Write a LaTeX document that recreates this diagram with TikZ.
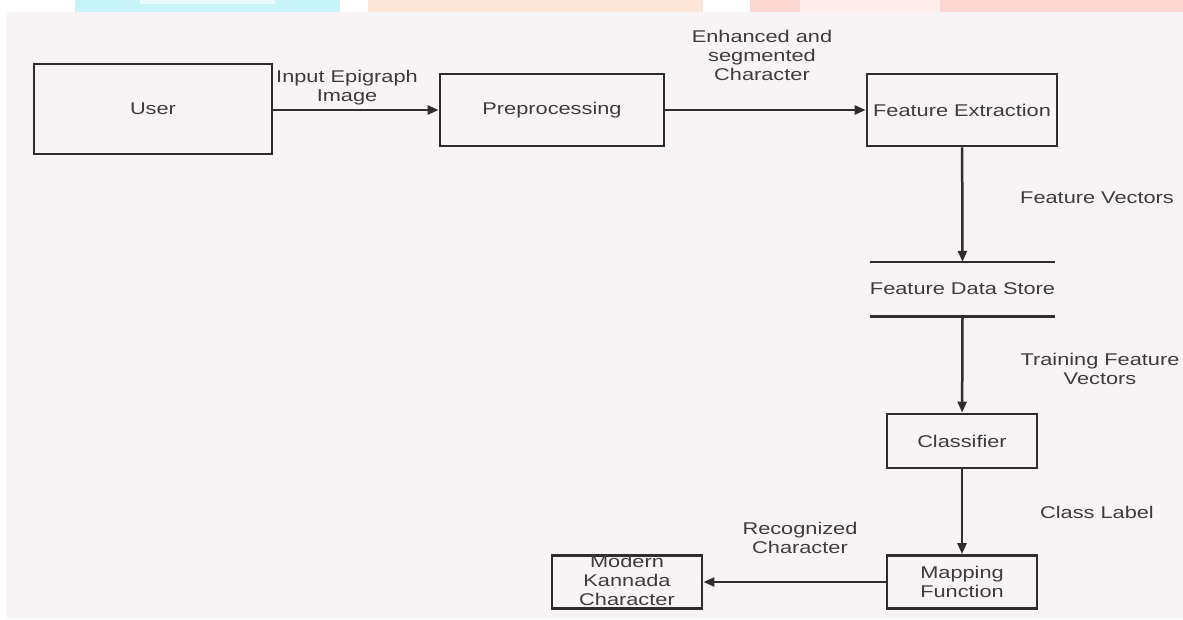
\documentclass[tikz,border=0pt]{standalone}
\usepackage{fontspec}
\setmainfont{Liberation Sans}[FakeStretch=1.28]
\usetikzlibrary{arrows.meta}
\definecolor{ink}{HTML}{2E2E2E}
\definecolor{txt}{HTML}{3C3C3C}
\definecolor{panel}{HTML}{F8F4F5}
\definecolor{wmcyan}{HTML}{C9F4F8}
\definecolor{wmpeach}{HTML}{FDE6D7}
\definecolor{wmpink}{HTML}{FBD6D2}
\begin{document}
\begin{tikzpicture}[x=1pt,y=-1pt,
  every node/.style={font=\fontsize{17}{19}\selectfont},
  box/.style={draw=ink, line width=2.8pt, fill=panel, inner sep=0pt, align=center, text=txt},
  lbl/.style={align=center, text=txt, inner sep=0pt},
  storeline/.style={draw=ink, line width=2.6pt},
  arr/.style={draw=ink, line width=2.5pt, -{Triangle[length=11pt,width=9pt]}}]
\useasboundingbox (0,0) rectangle (1183,619);
\fill[white] (0,0) rectangle (1183,619);
% watermark strip at the top
\fill[wmcyan] (75,0) rectangle (340,12);
\fill[white!60!wmcyan] (140,0) rectangle (275,4);
\fill[wmpeach] (368,0) rectangle (703,12);
\fill[wmpink] (750,0) rectangle (1183,12);
\fill[white!55!wmpink] (800,0) rectangle (940,12);
% main panel
\fill[panel] (7,12) rectangle (1183,619);

% boxes
\node[box, minimum width=238, minimum height=90] (user) at (153,109) {User};
\node[box, minimum width=224, minimum height=72] (pre) at (552,110) {Preprocessing};
\node[box, minimum width=190, minimum height=72] (fe) at (962,110) {Feature Extraction};
\node[lbl, minimum width=151, minimum height=54] (store) at (962.5,289) {Feature Data Store};
\draw[storeline] (store.north west) -- (store.north east);
\draw[storeline] (store.south west) -- (store.south east);
\node[box, minimum width=150, minimum height=54] (cls) at (962,441) {Classifier};
\node[box, minimum width=150, minimum height=53] (map) at (962,582) {Mapping\\Function};
\node[box, minimum width=150, minimum height=53] (mod) at (627,582)
  {\smash{\raisebox{-5pt}{\begin{tabular}{@{}c@{}}Modern\\Kannada\\Character\end{tabular}}}};

% connectors
\draw[arr] (user.east |- pre.west) -- (pre.west);
\draw[arr] (pre) -- (fe);
\draw[arr] (fe) -- (store.north);
\draw[arr] (store.south) -- (cls);
\draw[arr] (cls) -- (map);
\draw[arr] (map) -- (mod);

% connector labels
\node[lbl] (l1) at (347,88) {Input Epigraph\\Image};
\node[lbl] (l2) at (762,55) {Enhanced and\\segmented\\Character};
\node[lbl] (l3) at (1097,198) {Feature Vectors};
\node[lbl] (l4) at (1100,369) {Training Feature\\Vectors};
\node[lbl] (l5) at (1097,512) {Class Label};
\node[lbl] (l6) at (800,538) {Recognized\\Character};
\end{tikzpicture}
\end{document}
